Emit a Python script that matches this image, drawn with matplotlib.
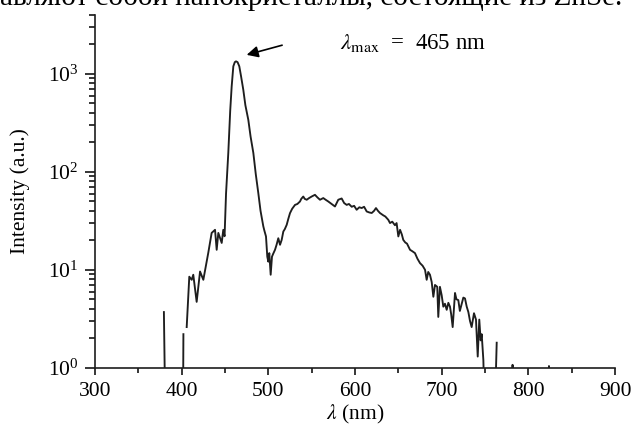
import matplotlib
matplotlib.use("Agg")
import matplotlib.pyplot as plt
from matplotlib.ticker import LogLocator, LogFormatterMathtext, MultipleLocator
import numpy as np

plt.rcParams['font.family'] = ['Liberation Serif', 'DejaVu Serif']
plt.rcParams['mathtext.fontset'] = 'stix'

nan = np.nan

# wavelength (nm) and PL intensity (a.u.); nan marks gaps where the log plot breaks
wavelength = [
    379.5, 381.0, 390.0,
    401.6, 402.0, 403.5,
    405.8, 408.8, 411.6, 413.4, 417.3, 421.2, 425.0, 430.7, 434.6, 438.5,
    440.4, 442.3, 446.2, 448.0, 449.5, 451.2, 453.8, 456.0, 457.7, 459.6,
    461.3, 462.7, 464.5, 466.5, 468.5, 471.1, 473.5, 476.9, 479.5, 482.7,
    485.5, 488.4, 491.0, 494.2, 495.5, 497.3, 498.8, 500.0, 501.1, 502.7,
    504.2, 505.5, 507.7, 509.5, 511.5, 513.5, 515.4, 517.3, 519.0, 521.2,
    523.0, 525.0, 527.5, 530.8, 533.5, 536.5, 538.0, 540.3, 542.0, 544.3,
    547.0, 550.0, 553.8, 556.5, 559.6, 563.4, 566.0, 569.2, 573.0, 576.9,
    580.7, 584.6, 587.5, 590.4, 593.0, 596.2, 599.0, 601.9, 605.0, 607.7,
    610.5, 613.5, 616.5, 619.3, 622.0, 624.2, 626.5, 628.8, 632.6, 635.0,
    638.4, 640.4, 643.0, 646.1, 648.0, 650.0, 652.0, 654.0, 655.7, 658.0,
    660.0, 663.5, 666.0, 669.2, 672.0, 675.0, 678.0, 680.8, 682.7, 684.5,
    686.5, 688.5, 690.4, 692.3, 694.9, 696.1, 698.0, 700.0, 701.9, 703.8,
    705.8, 707.7, 709.6, 711.0, 712.7, 715.4, 717.0, 719.2, 721.0, 723.1,
    725.0, 726.9, 728.9, 730.8, 732.7, 734.6, 737.3, 739.6, 741.6, 743.4,
    745.0, 746.2, 748.1, 749.5, 755.0,
    761.5, 763.5, 770.0,
    780.8, 781.8, 782.8, 800.0,
    822.8, 823.8, 824.8,
]
intensity = [
    3.7, 0.4, nan,
    0.4, 2.2, nan,
    2.6, 8.5, 7.9, 8.9, 4.7, 9.6, 7.9, 14.9, 23.8, 25.6,
    16.0, 23.8, 18.8, 25.6, 22.0, 60.0, 156.0, 420.0, 746.0, 1196.0,
    1320.0, 1345.0, 1320.0, 1196.0, 950.0, 690.0, 480.0, 340.0, 230.0, 156.0,
    95.0, 61.0, 40.0, 27.8, 25.0, 21.9, 13.6, 12.1, 14.8, 8.9,
    13.6, 14.5, 16.0, 18.0, 21.0, 18.0, 20.2, 24.6, 26.0, 28.8,
    33.0, 37.9, 42.0, 46.0, 47.0, 49.8, 53.0, 56.0, 53.0, 51.9,
    54.0, 56.0, 58.3, 55.0, 51.9, 54.0, 52.0, 49.8, 47.0, 44.3,
    51.9, 53.5, 48.0, 46.0, 47.0, 44.0, 45.0, 41.0, 43.5, 42.7,
    44.0, 39.4, 38.5, 38.0, 40.0, 42.7, 40.0, 38.0, 36.0, 35.0,
    32.4, 30.0, 31.0, 28.5, 30.0, 21.9, 25.6, 23.0, 20.2, 19.0,
    18.5, 16.0, 15.5, 14.8, 13.0, 11.7, 11.0, 10.0, 7.9, 9.5,
    8.9, 7.5, 5.3, 7.0, 6.7, 3.3, 6.7, 5.5, 4.2, 4.5,
    3.9, 4.6, 4.2, 3.5, 2.6, 5.8, 5.0, 4.9, 3.8, 4.5,
    5.2, 5.1, 4.2, 3.7, 3.0, 2.6, 3.6, 3.1, 1.3, 3.1,
    1.9, 2.2, 1.2, 0.4, nan,
    0.4, 1.8, nan,
    0.5, 1.07, 0.5, nan,
    0.5, 1.04, 0.5,
]

lineColor = "#1e1e1e"

fig = plt.figure(figsize=(6.33, 4.26), dpi=100)
ax = fig.add_axes([95 / 633, 58.3 / 426, 520 / 633, 352.7 / 426])

ax.plot(wavelength, intensity, color=lineColor, lw=1.35)
ax.set_yscale('log')
ax.set_xlim(300, 900)
ax.set_ylim(1, 4000)

ax.xaxis.set_major_locator(MultipleLocator(100))
ax.xaxis.set_minor_locator(MultipleLocator(50))
ax.yaxis.set_major_locator(LogLocator(base=10))
ax.yaxis.set_minor_locator(LogLocator(base=10, subs=np.arange(2, 10)))
ax.yaxis.set_major_formatter(LogFormatterMathtext())

for s in ['top', 'right']:
    ax.spines[s].set_visible(False)
for s in ['left', 'bottom']:
    ax.spines[s].set_linewidth(1.2)
    ax.spines[s].set_color(lineColor)

ax.tick_params(axis='x', which='major', direction='out', length=5, width=1.1, labelsize=15.5, pad=5)
ax.tick_params(axis='x', which='minor', direction='out', length=3.5, width=1.1)
ax.tick_params(axis='y', which='major', direction='out', length=7, width=1.1, labelsize=15.5, pad=5)
ax.tick_params(axis='y', which='minor', direction='out', length=4.5, width=1.1)

ax.set_xlabel(r'$\lambda$ (nm)', fontsize=15.5)
ax.xaxis.set_label_coords(0.5, -0.1)
ax.set_ylabel('Intensity (a.u.)', fontsize=15.5)
ax.yaxis.set_label_coords(-0.125, 0.5)

# peak marker
ax.annotate('', xy=(471.9, 1540), xytext=(519, 2000),
            arrowprops=dict(arrowstyle='-|>', color='k', lw=1.2, mutation_scale=17))
ax.text(583, 2090, r'$\lambda_{\rm max}$  =  465 nm', fontsize=16.5, va='center', ha='left')

# clipped line of page text above the figure
fig.text(0.0, 1 - 5 / 426, 'авляют собой нанокристаллы, состоящие из ZnSe.',
         fontsize=21, va='baseline', ha='left')

fig.savefig('out.png', dpi=100)
